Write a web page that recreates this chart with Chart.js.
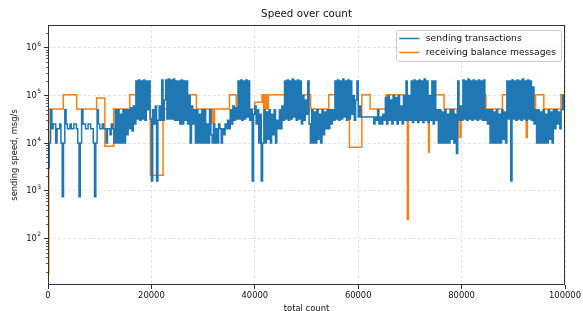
<!DOCTYPE html>
<html>
<head>
<meta charset="utf-8">
<script src="https://cdn.jsdelivr.net/npm/chart.js@4.4.1/dist/chart.umd.min.js"></script>
<style>
  body { margin: 0; background: #fff; }
</style>
</head>
<body>
<canvas id="chart" width="583" height="311"></canvas>
<script>
// sending transactions, msg/s in thousands, one sample every 250 counts
const sendStep = 250
const sendingK = [
  3,10,50,20,25,25,10,20,20,25,10,0.75,10,50,25,20,20,25,20,20,
  25,25,20,10,0.75,10,50,25,25,20,20,25,25,20,20,10,0.75,10,50,25,
  20,20,25,20,20,10,20,20,15,25,20,10,50,10,50,10,40,10,50,10,
  50,15,50,20,55,18,60,25,200,32,210,30,200,32,210,30,200,50,200,32,
  1.6,50,25,60,1.6,30,60,30,210,30,80,210,32,220,32,210,32,220,30,200,
  30,200,25,210,25,200,30,200,25,100,10,60,25,50,10,50,10,40,10,50,
  10,50,10,25,10,50,15,10,25,10,20,10,25,20,10,20,15,25,20,30,
  20,50,25,60,30,55,32,200,32,210,30,200,32,210,35,200,30,50,1.6,40,
  60,25,50,10,40,1.6,10,50,10,45,12,50,10,40,15,50,10,30,20,50,
  20,60,30,200,32,210,30,200,32,220,35,200,30,210,32,200,25,100,30,80,
  40,200,25,10,50,10,45,10,50,12,40,10,50,15,45,20,50,20,50,25,
  50,30,200,32,210,30,200,32,220,35,200,30,210,32,200,40,100,30,80,200,
  35,60,35,35,35,35,35,35,35,35,35,35,25,35,30,50,25,35,25,40,
  30,90,25,100,30,80,25,100,30,90,25,100,30,60,25,100,30,200,30,100,
  30,200,27,210,30,200,27,210,30,200,27,220,30,200,27,100,30,200,25,200,
  30,50,10,50,10,45,10,50,10,40,10,50,12,50,10,40,6,200,30,60,
  30,210,32,200,30,220,32,200,30,210,32,200,30,210,32,200,30,210,30,50,
  25,50,10,50,10,45,10,50,10,40,10,50,12,45,10,200,32,200,1.6,210,
  32,200,30,210,32,200,30,220,32,200,30,210,32,200,30,150,25,50,10,50,
  10,45,10,50,10,40,10,50,12,45,10,50,20,50,25,45,20,50,100,50,
  60
]

// receiving balance messages, step changes
const receivingX = [
  0,150,2950,5540,9400,11000,12700,15800,19050,19800,22260,25300,28700,31300,31600,31900,32200,
  35100,36400,40000,41400,41700,42000,42300,42600,46400,49200,50800,54300,57700,58300,60700,
  62300,65400,68900,69500,69700,71200,73400,73600,73750,74700,76600,79100,79300,79700,79900,
  81500,84700,87900,89200,90200,92500,92700,94300,95900,99200,100000
]
const receivingY = [
  18,52000,103000,52000,88000,8600,52000,103000,52000,2100,52000,103000,52000,26000,52000,26000,52000,
  103000,52000,72000,103000,52000,103000,52000,103000,52000,103000,52000,103000,52000,8200,103000,
  52000,103000,52000,250,52000,103000,52000,6400,52000,103000,52000,13000,52000,13000,52000,
  103000,52000,103000,52000,103000,13000,52000,103000,52000,103000,103000
]

const xTickStep = 20000
const yTickValues = [1e2, 1e3, 1e4, 1e5, 1e6]
const seriesNames = ['sending transactions', 'receiving balance messages']
const titleText = 'Speed over count'

const FONT = '"DejaVu Sans", sans-serif'

const axesDecor = {
  id: 'axesDecor',
  afterDatasetsDraw(chart) {
    const { ctx, chartArea: a, scales: { y } } = chart
    ctx.save()
    // minor log ticks
    ctx.strokeStyle = '#333'
    ctx.lineWidth = 0.8
    ctx.beginPath()
    for (let e = 1; e <= 6; e++) {
      for (let m = 2; m <= 9; m++) {
        const v = m * Math.pow(10, e)
        if (v <= y.min || v >= y.max) continue
        const py = Math.round(y.getPixelForValue(v)) + 0.5
        ctx.moveTo(a.left - 2, py)
        ctx.lineTo(a.left, py)
      }
    }
    ctx.stroke()
    // y tick labels 10^n
    ctx.fillStyle = '#111'
    ctx.textBaseline = 'middle'
    yTickValues.forEach(v => {
      const py = y.getPixelForValue(v)
      const ex = String(Math.round(Math.log10(v)))
      ctx.font = '6px ' + FONT
      const ew = ctx.measureText(ex).width
      const right = a.left - 7
      ctx.textAlign = 'left'
      ctx.fillText(ex, right - ew, py - 3.5)
      ctx.font = '8.4px ' + FONT
      ctx.textAlign = 'right'
      ctx.fillText('10', right - ew - 0.3, py + 0.5)
    })
    // frame
    ctx.strokeStyle = '#333'
    ctx.lineWidth = 1
    ctx.strokeRect(Math.round(a.left) + 0.5, Math.round(a.top) + 0.5,
      Math.round(a.right - a.left) - 1, Math.round(a.bottom - a.top) - 1)
    // title
    ctx.font = '10.3px ' + FONT
    ctx.textAlign = 'center'
    ctx.fillText(titleText, (a.left + a.right) / 2, 14)
    // legend
    ctx.font = '9.2px ' + FONT
    const ds = chart.data.datasets
    const w = Math.max(...ds.map(d => ctx.measureText(d.label).width))
    const bw = 3 + 20 + 6.5 + w + 5
    const bx = a.right - 4 - bw, by = a.top + 5
    ctx.fillStyle = 'rgba(255,255,255,0.85)'
    ctx.strokeStyle = '#cccccc'
    ctx.lineWidth = 1
    ctx.beginPath()
    ctx.roundRect(Math.round(bx) + 0.5, Math.round(by) + 0.5, Math.round(bw), 31, 2)
    ctx.fill()
    ctx.stroke()
    ctx.textAlign = 'left'
    ds.forEach((d, i) => {
      const ly = by + 8.5 + i * 14
      ctx.strokeStyle = d.borderColor
      ctx.lineWidth = 1.5
      ctx.beginPath()
      ctx.moveTo(bx + 3, ly)
      ctx.lineTo(bx + 23, ly)
      ctx.stroke()
      ctx.fillStyle = '#111'
      ctx.fillText(d.label, bx + 29.5, ly)
    })
    ctx.restore()
  }
}

const tickFont = { family: FONT, size: 8.4 }

new Chart(document.getElementById('chart'), {
  type: 'line',
  plugins: [axesDecor],
  data: {
    datasets: [
      {
        label: seriesNames[0],
        data: sendingK.map((v, i) => ({ x: i * sendStep, y: v * 1000 })),
        borderColor: '#1f77b4',
        borderWidth: 1.5,
        pointRadius: 0,
        stepped: true
      },
      {
        label: seriesNames[1],
        data: receivingX.map((x, i) => ({ x: x, y: receivingY[i] })),
        borderColor: '#ff7f0e',
        borderWidth: 1.5,
        pointRadius: 0,
        stepped: true
      }
    ]
  },
  options: {
    responsive: false,
    animation: false,
    events: [],
    layout: { padding: { top: 25, right: 17, left: 0, bottom: 0 } },
    plugins: {
      legend: { display: false },
      title: { display: false },
      tooltip: { enabled: false }
    },
    scales: {
      x: {
        type: 'linear',
        min: 0,
        max: 100000,
        afterFit(s) { s.height = 26 },
        ticks: {
          stepSize: xTickStep,
          callback: v => String(v),
          font: tickFont,
          color: '#111',
          padding: 2,
          maxRotation: 0,
          autoSkip: false
        },
        grid: {
          color: '#dddddd',
          lineWidth: 0.8,
          tickColor: '#333',
          tickLength: 4,
          tickWidth: 1,
          tickBorderDash: []
        },
        border: { display: false, dash: [3, 2] },
        title: {
          display: true,
          text: 'total count',
          font: tickFont,
          color: '#111',
          padding: { top: 0, bottom: -2.5 }
        }
      },
      y: {
        type: 'logarithmic',
        min: 10.5,
        max: 3e6,
        afterBuildTicks(s) { s.ticks = yTickValues.map(v => ({ value: v })) },
        afterFit(s) { s.width = 48 },
        ticks: { display: false },
        grid: {
          color: '#dddddd',
          lineWidth: 0.8,
          tickColor: '#333',
          tickLength: 4,
          tickWidth: 1,
          tickBorderDash: []
        },
        border: { display: false, dash: [3, 2] },
        title: {
          display: true,
          text: 'sending speed, msg/s',
          font: tickFont,
          color: '#111',
          padding: { top: 10, bottom: 0 }
        }
      }
    }
  }
})
</script>
</body>
</html>
